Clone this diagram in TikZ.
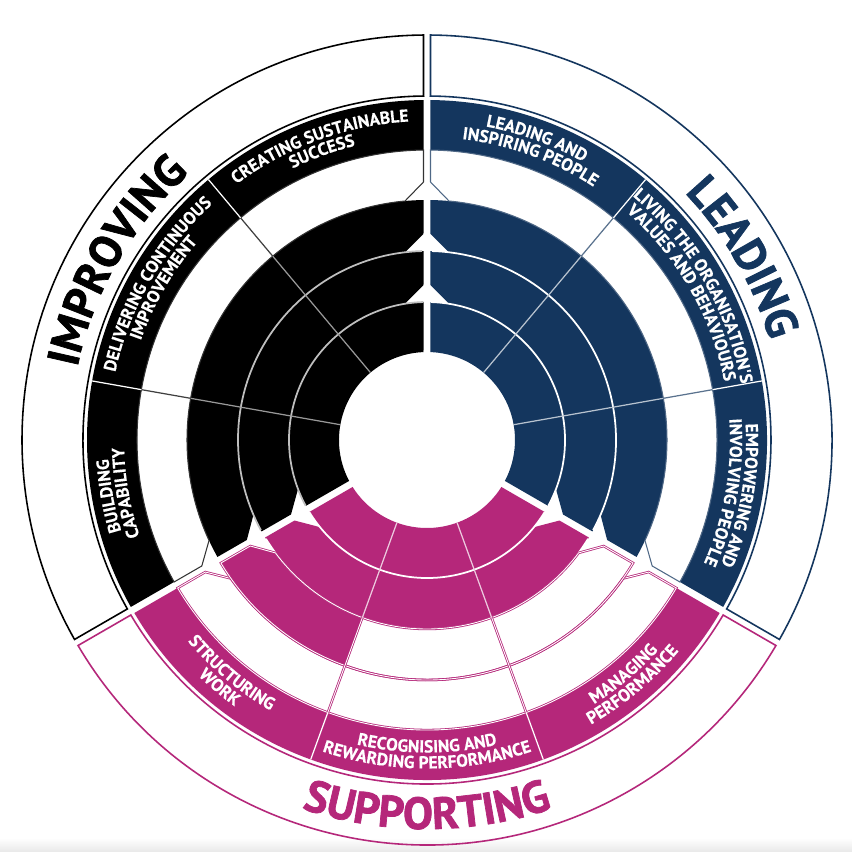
\documentclass[tikz,border=0pt]{standalone}
\usepackage{fontspec}
\setmainfont{PT Sans}
\newfontfamily\bandfamily{PT Sans}[BoldFeatures={FakeBold=0.4}]
\newfontfamily\heavyfamily{PT Sans}[BoldFeatures={FakeBold=1.6}]
\usetikzlibrary{calc,
                decorations.text}

\definecolor{impcol}{RGB}{0,0,0}
\definecolor{leadcol}{RGB}{20,54,94}
\definecolor{supcol}{RGB}{181,39,122}

\def\cellgap{3.5}
\def\notchw{22}

% one cell of the wheel: start angle, end angle, inner radius, outer radius, notch depth, style
\newcommand\wheelcell[6]{%
  \pgfmathsetmacro\cellout{asin(\cellgap/#4)}%
  \pgfmathsetmacro\cellin{asin(ifthenelse(#5>0,\notchw,\cellgap)/#3)}%
  \pgfmathsetmacro\cellside{#3+#5}%
  \path[#6] (#1+\cellout:#4)
    arc[start angle=#1+\cellout, end angle=#2-\cellout, radius=#4]
    -- ($(#2:\cellside)+(#2-90:\cellgap)$)
    -- (#2-\cellin:#3)
    arc[start angle=#2-\cellin, end angle=#1+\cellin, radius=#3]
    -- ($(#1:\cellside)+(#1+90:\cellgap)$)
    -- cycle;}

% curved label: centre angle, radius, half span (negative = anticlockwise), format, text
\newcommand\arclabel[5]{%
  \path[decorate, decoration={text along path, text align=center, text={|#4|#5}}]
    (#1+#3:#2) arc[start angle=#1+#3, end angle=#1-#3, radius=#2];}

\newcommand\bandfont{\color{white}\bandfamily\bfseries\fontsize{9.9pt}{12pt}\selectfont}
\newcommand\bigfont[1]{\color{#1}\heavyfamily\bfseries\fontsize{25.5pt}{30pt}\selectfont}

\begin{document}
\begin{tikzpicture}[x=0.02cm, y=0.02cm,
    ringline/.style={draw=#1, line width=0.6pt, line join=miter},
    supline/.style={draw=supcol, double=white, double distance=0.5pt, line width=0.45pt},
    spoke/.style={draw=#1, line width=0.7pt}]
  \useasboundingbox (-427,-412) rectangle (425,440);
  \fill[white] (-427,-412) rectangle (425,440);
  \shade[top color=white, bottom color=black!9] (-427,-412) rectangle (425,-398);

  % levels, label bands and outer rings
  \foreach \a/\b/\col in {90/210/impcol, -30/90/leadcol, 210/330/supcol} {
    \wheelcell{\a}{\b}{88}{138}{0}{fill=\col}
    \wheelcell{\a}{\b}{138}{189}{17}{fill=\col}
    \wheelcell{\a}{\b}{290}{340}{0}{fill=\col}
    \wheelcell{\a}{\b}{344}{405}{0}{draw=\col, line width=0.9pt}
  }
  \foreach \a/\b/\col in {90/210/impcol, -30/90/leadcol}
    \wheelcell{\a}{\b}{189}{240}{17}{fill=\col};
  \begin{scope}
    \clip (0,0) -- (200:420) arc[start angle=200, end angle=250, radius=420] -- cycle;
    \wheelcell{210}{330}{189}{240}{17}{fill=supcol}
  \end{scope}

  % level boundaries
  \foreach \a/\b/\arccol in {90/210/black!25, -30/90/white, 210/330/white} {
    \draw[\arccol, line width=1pt] (\a+1.5:138) arc[start angle=\a+1.5, end angle=\b-1.5, radius=138];
    \draw[\arccol, line width=1pt] (\a+1.5:189) arc[start angle=\a+1.5, end angle=\b-1.5, radius=189];
  }
  \draw[white, line width=1pt] (211:240) arc[start angle=211, end angle=250, radius=240];

  % empty levels
  \wheelcell{90}{210}{240}{290}{18}{ringline=black!80}
  \wheelcell{-30}{90}{240}{290}{18}{ringline=leadcol!75}
  \wheelcell{210}{330}{240}{290}{18}{supline}
  \wheelcell{210}{330}{189}{240}{17}{supline}

  % spokes
  \foreach \s/\inner/\outer in {130/black!40/black!75, 170/black!40/black!75,
                                50/white!70!leadcol/leadcol!70, 10/white!70!leadcol/leadcol!70} {
    \draw[spoke=\inner] (\s:88) -- (\s:240);
    \draw[spoke=\outer] (\s:240) -- (\s:290);
  }
  \foreach \s in {250,290} {
    \draw[spoke=white!75!supcol] (\s:88) -- (\s:189);
    \draw[supline] (\s:189) -- (\s:290);
  }
  \foreach \s in {130,170,50,10,250,290}
    \draw[spoke=white] (\s:290) -- (\s:340);

  % labels
  \arclabel{110}{319}{35}{\bandfont}{CREATING SUSTAINABLE}
  \arclabel{110}{303}{35}{\bandfont}{SUCCESS}
  \arclabel{150}{319}{35}{\bandfont}{DELIVERING CONTINUOUS}
  \arclabel{150}{303}{35}{\bandfont}{IMPROVEMENT}
  \arclabel{190}{319}{35}{\bandfont}{BUILDING}
  \arclabel{190}{303}{35}{\bandfont}{CAPABILITY}
  \arclabel{70}{319}{35}{\bandfont}{LEADING AND}
  \arclabel{70}{303}{35}{\bandfont}{INSPIRING PEOPLE}
  \arclabel{30}{319}{35}{\bandfont}{LIVING THE ORGANISATION'S}
  \arclabel{30}{303}{35}{\bandfont}{VALUES AND BEHAVIOURS}
  \arclabel{-10}{319}{35}{\bandfont}{EMPOWERING AND}
  \arclabel{-10}{303}{35}{\bandfont}{INVOLVING PEOPLE}
  \arclabel{230}{312.5}{-35}{\bandfont}{STRUCTURING}
  \arclabel{230}{328.5}{-35}{\bandfont}{WORK}
  \arclabel{270}{312.5}{-35}{\bandfont}{RECOGNISING AND}
  \arclabel{270}{328.5}{-35}{\bandfont}{REWARDING PERFORMANCE}
  \arclabel{310}{312.5}{-35}{\bandfont}{MANAGING}
  \arclabel{310}{328.5}{-35}{\bandfont}{PERFORMANCE}

  \arclabel{150}{357}{45}{\bigfont{impcol}}{IMPROVING}
  \arclabel{30}{357}{45}{\bigfont{leadcol}}{LEADING}
  \arclabel{270}{389}{-45}{\bigfont{supcol}}{SUPPORTING}
\end{tikzpicture}
\end{document}
